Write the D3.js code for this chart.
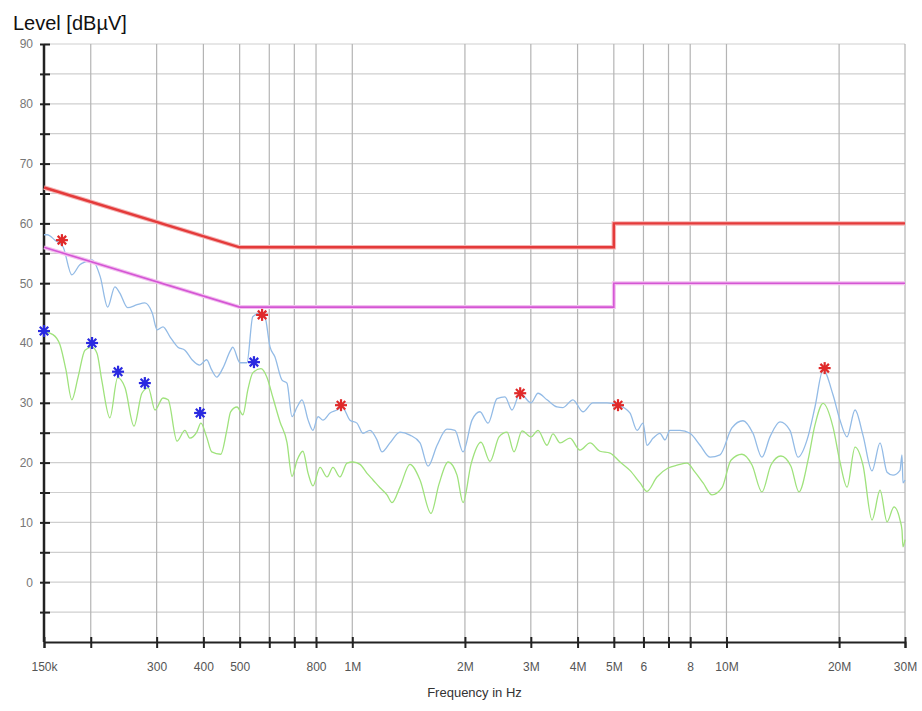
<!DOCTYPE html>
<html><head><meta charset="utf-8">
<script src="https://cdn.jsdelivr.net/npm/d3@7"></script>
<style>
html,body{margin:0;padding:0;background:#fff;}
svg{display:block;font-family:"Liberation Sans",Arial,sans-serif;}
</style></head>
<body>
<svg id="chart" width="922" height="711"></svg>
<script>
// ---- data (frequency in MHz, level in dBµV) ----
const gridFreqs = [0.15,0.2,0.3,0.4,0.5,0.6,0.7,0.8,1,2,3,4,5,6,7,8,10,20,30];
const tickLabels = ["150k","","300","400","500","","","800","1M","2M","3M","4M","5M","6","","8","10M","20M","30M"];
const yTicks = [0,10,20,30,40,50,60,70,80,90];
const yGrid = [-5,0,5,10,15,20,25,30,35,40,45,50,55,60,65,70,75,80,85,90];

const qpLimitFreq = [0.15,0.5,5,5,30];
const qpLimit     = [66,56,56,60,60];
const avLimitFreq = [0.15,0.5,5,5,30];
const avLimit     = [56,46,46,50,50];

const peakFreq = [0.150,0.153,0.1605,0.1686,0.178,0.187,0.194,0.2015,0.212,0.222,0.232,0.239,0.251,0.266,0.279,0.292,0.301,0.312,0.326,0.342,0.357,0.373,0.391,0.408,0.421,0.434,0.451,0.473,0.479,0.501,0.523,0.542,0.567,0.584,0.603,0.621,0.649,0.669,0.690,0.712,0.734,0.762,0.785,0.810,0.835,0.872,0.910,0.939,0.986,1.029,1.068,1.115,1.164,1.200,1.261,1.341,1.426,1.517,1.594,1.685,1.790,1.882,1.977,2.089,2.194,2.306,2.437,2.559,2.672,2.806,3.004,3.136,3.314,3.525,3.657,3.887,4.135,4.395,4.795,5.10,5.52,5.77,5.985,6.13,6.37,6.64,6.85,7.06,7.51,7.99,8.50,9.04,9.61,10.34,11.07,11.77,12.44,13.07,13.90,14.78,15.53,16.42,17.24,18.12,19.27,20.11,21.0,22.06,23.16,24.49,25.73,26.86,27.87,29.09,29.45,29.63,30.0];
const peakLevel = [58.1,58.1,57.2,56.1,51.4,53.1,53.6,53.9,51.1,46.0,49.4,48.4,45.9,46.4,46.7,45.0,42.2,42.7,41.0,39.3,38.8,37.2,36.3,37.2,35.5,34.3,35.8,38.8,39.3,36.7,36.7,44.4,45.0,44.4,39.3,37.7,33.8,33.3,27.7,29.3,30.5,27.1,25.4,27.7,27.1,28.3,28.8,29.3,27.1,26.6,24.9,25.4,23.8,21.8,23.3,25.1,24.6,23.3,19.4,22.9,25.6,25.4,21.8,27.1,28.5,26.6,30.7,31.0,28.8,31.6,30.0,31.6,30.5,29.3,29.2,30.5,28.5,30.0,30.0,29.7,28.3,25.4,26.6,22.9,24.1,24.9,23.8,25.4,25.4,24.9,22.9,20.9,21.3,25.8,27.0,24.9,20.9,24.3,26.8,25.4,20.9,23.8,29.3,35.5,31.3,27.1,24.3,28.8,24.6,18.6,23.3,18.4,17.9,18.7,21.3,16.6,17.1];

const avgFreq = [0.150,0.1585,0.1655,0.1717,0.178,0.185,0.193,0.2015,0.2078,0.214,0.225,0.236,0.247,0.261,0.274,0.285,0.297,0.312,0.322,0.340,0.357,0.368,0.384,0.394,0.408,0.421,0.445,0.462,0.473,0.492,0.510,0.526,0.542,0.570,0.592,0.614,0.641,0.669,0.690,0.712,0.738,0.762,0.785,0.820,0.856,0.888,0.927,0.968,1.004,1.049,1.095,1.136,1.186,1.238,1.277,1.341,1.426,1.517,1.623,1.705,1.803,1.905,1.977,2.076,2.208,2.334,2.467,2.591,2.705,2.842,3.004,3.136,3.314,3.438,3.592,3.817,4.059,4.32,4.59,4.884,5.196,5.52,5.875,6.13,6.52,6.98,7.42,7.84,8.24,8.66,9.15,9.73,10.28,11.0,11.70,12.44,13.15,13.98,14.87,15.62,16.52,17.24,18.12,19.27,20.11,21.0,22.06,23.16,24.49,25.73,26.86,28.04,29.09,29.45,29.63,30.0];
const avgLevel = [41.9,41.4,39.7,35.5,30.5,34.3,38.8,39.3,38.3,33.8,27.5,34.2,32.5,26.1,31.6,32.5,28.8,30.8,30.5,23.6,25.4,24.1,25.1,26.6,24.3,21.8,21.4,25.4,28.5,29.3,28.0,32.2,35.0,35.7,34.2,30.8,26.8,23.4,17.7,20.4,21.9,18.2,16.1,19.2,17.6,19.2,17.6,19.9,20.1,19.7,18.2,17.1,15.8,14.6,13.3,15.9,19.7,17.1,11.5,16.4,20.1,17.9,13.3,19.7,23.4,20.2,24.3,25.1,21.8,25.3,24.3,25.4,22.9,24.8,23.3,24.1,22.1,23.3,21.9,21.6,20.1,18.7,16.6,15.2,17.6,19.1,19.6,19.9,18.4,16.6,14.6,15.8,20.4,21.4,19.6,15.1,19.6,21.1,19.4,15.1,20.4,26.3,29.9,25.9,20.1,15.9,22.6,19.6,10.4,15.4,10.1,12.6,10.4,8.7,5.9,7.1];

const qpMarkFreq  = [0.1675,0.574,0.933,2.81,5.13,18.3];
const qpMarkLevel = [57.2,44.7,29.6,31.6,29.6,35.8];
const avMarkFreq  = [0.150,0.2016,0.2366,0.279,0.392,0.546];
const avMarkLevel = [42.0,40.0,35.2,33.3,28.3,36.8];

// ---- scales ----
const svg = d3.select("#chart");
const x = d3.scaleLog().domain([0.15,30]).range([44,905]);
const y = d3.scaleLinear().domain([-10,90]).range([642,44]);

// grid
svg.append("g").selectAll("line").data(yGrid).join("line")
  .attr("x1",x(0.15)).attr("x2",x(30)).attr("y1",d=>y(d)).attr("y2",d=>y(d))
  .attr("stroke","#cfcfcf").attr("stroke-width",1.2);
svg.append("g").selectAll("line").data(gridFreqs.slice(1)).join("line")
  .attr("x1",d=>x(d)).attr("x2",d=>x(d)).attr("y1",y(90)).attr("y2",y(-10))
  .attr("stroke","#b4b4b4").attr("stroke-width",1.2);

// axes
const xAxis = d3.axisBottom(x).tickValues(gridFreqs)
  .tickFormat((d,i)=>tickLabels[i]).tickSize(6).tickPadding(14);
const gx = svg.append("g").attr("transform",`translate(0,${y(-10)})`).call(xAxis);
gx.select(".domain").attr("stroke","#222").attr("stroke-width",2);
gx.selectAll(".tick line").attr("y1",-5).attr("y2",6).attr("stroke","#222").attr("stroke-width",2);
gx.selectAll(".tick text").attr("fill","#555").attr("font-size",12)
  .attr("font-family","'Liberation Sans',Arial,sans-serif");

const yAxis = d3.axisLeft(y).tickValues(yGrid).tickFormat(d=>yTicks.includes(d)?d:"")
  .tickSize(4).tickPadding(7);
const gy = svg.append("g").attr("transform",`translate(${x(0.15)},0)`).call(yAxis);
gy.select(".domain").attr("stroke","#222").attr("stroke-width",2.5).attr("d",`M0,${y(90)}V${y(-10)}`);
gy.selectAll(".tick line").attr("x1",-4).attr("x2",6).attr("stroke","#222").attr("stroke-width",2);
gy.selectAll(".tick text").attr("fill","#777").attr("font-size",12)
  .attr("font-family","'Liberation Sans',Arial,sans-serif");

// lines
const line = d3.line().x(d=>x(d[0])).y(d=>y(d[1])).curve(d3.curveMonotoneX);
const zip = (a,b)=>a.map((v,i)=>[v,b[i]]);

svg.append("path").datum(zip(peakFreq,peakLevel)).attr("d",line)
  .attr("fill","none").attr("stroke","#93bbe6").attr("stroke-width",1.3);
svg.append("path").datum(zip(avgFreq,avgLevel)).attr("d",line)
  .attr("fill","none").attr("stroke","#9fe27c").attr("stroke-width",1.3);

const step = d3.line().x(d=>x(d[0])).y(d=>y(d[1]));
svg.append("path").datum(zip(avLimitFreq,avLimit)).attr("d",step)
  .attr("fill","none").attr("stroke","#f3c0f0").attr("stroke-width",4);
svg.append("path").datum(zip(avLimitFreq,avLimit)).attr("d",step)
  .attr("fill","none").attr("stroke","#d456d4").attr("stroke-width",1.6);
svg.append("path").datum(zip(qpLimitFreq,qpLimit)).attr("d",step)
  .attr("fill","none").attr("stroke","#f5b5b5").attr("stroke-width",4.5);
svg.append("path").datum(zip(qpLimitFreq,qpLimit)).attr("d",step)
  .attr("fill","none").attr("stroke","#e43a3a").attr("stroke-width",2.4);

// markers (asterisks)
function star(g, fx, fy, color){
  const pts = zip(fx,fy);
  const r = 6;
  const angles = [0,45,90,135].map(a=>a*Math.PI/180);
  const sg = g.selectAll("g").data(pts).join("g")
    .attr("transform",d=>`translate(${x(d[0])},${y(d[1])})`);
  angles.forEach(a=>{
    sg.append("line").attr("x1",-r*Math.cos(a)).attr("y1",-r*Math.sin(a))
      .attr("x2",r*Math.cos(a)).attr("y2",r*Math.sin(a))
      .attr("stroke",color).attr("stroke-width",2.2);
  });
  sg.append("circle").attr("r",2.5).attr("fill",color);
}
star(svg.append("g"), qpMarkFreq, qpMarkLevel, "#e02a2a");
star(svg.append("g"), avMarkFreq, avMarkLevel, "#2a2ae0");

// titles
svg.append("text").attr("x",13).attr("y",30).attr("font-size",20).attr("fill","#111")
  .text("Level [dBµV]");
svg.append("text").attr("x",(x(0.15)+x(30))/2).attr("y",697).attr("text-anchor","middle")
  .attr("font-size",13).attr("fill","#333").text("Frequency in Hz");
</script>
</body></html>
